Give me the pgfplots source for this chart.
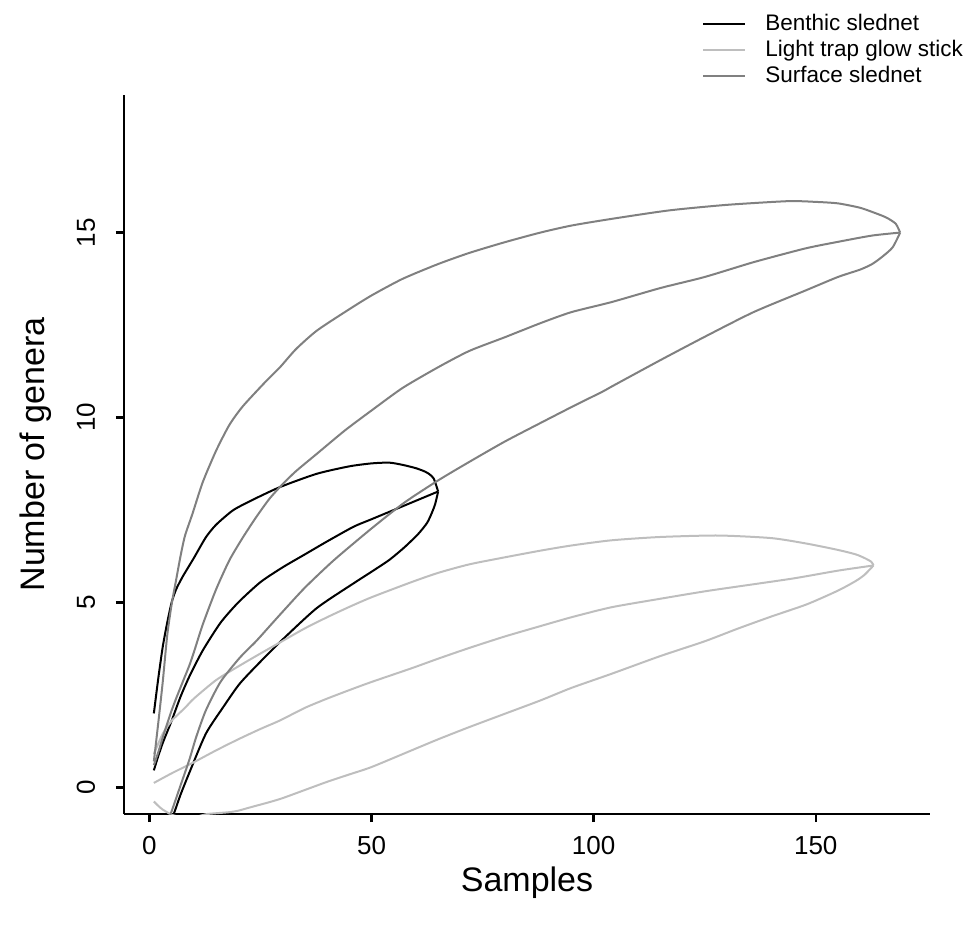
\documentclass[border=0pt]{standalone}
\usepackage{fontspec}
\setmainfont{Liberation Sans}
\usepackage{pgfplots}
\pgfplotsset{compat=1.18}
\definecolor{surfgray}{HTML}{808080}
\definecolor{litegray}{HTML}{BEBEBE}
\begin{document}
\begin{tikzpicture}
\useasboundingbox (-62pt,-57pt) rectangle (421.5pt,407pt);
\begin{axis}[
  at={(0pt,0pt)}, anchor=south west,
  scale only axis, width=403pt, height=359.5pt,
  xmin=-5.72, xmax=175.72, ymin=-0.72, ymax=18.72,
  axis x line*=bottom, axis y line*=left,
  axis line style={line width=1.2pt, -},
  xtick={0,50,100,150}, ytick={0,5,10,15},
  tick align=outside, major tick length=4pt,
  tick style={line width=1.2pt, black},
  /pgf/number format/assume math mode=true,
  tick label style={font=\fontsize{13}{15}\selectfont},
  xticklabel style={anchor=center, yshift=-12pt},
  yticklabel style={xshift=-15pt, rotate=90, anchor=center},
  every axis x label/.style={at={(axis description cs:0.5,0)}, yshift=-34.5pt, anchor=center, font=\fontsize{17}{20}\selectfont},
  every axis y label/.style={at={(axis description cs:0,0.5)}, xshift=-44pt, rotate=90, anchor=center, font=\fontsize{17}{20}\selectfont},
  xlabel={Samples}, ylabel={Number of genera},
  legend style={at={(axis description cs:0.7171,1.1145)}, anchor=north west, draw=none, fill=none,
    font=\fontsize{11.25}{13.5}\selectfont, inner sep=0pt, column sep=9.5pt, row sep=2pt,
    nodes={inner sep=0pt, text height=8.5pt, text depth=2.5pt}},
  legend cell align=left,
  legend image code/.code={\draw[#1] (0pt,0pt) -- (21pt,0pt);},
  every axis plot/.append style={line width=1pt, line join=round, smooth, tension=0.4},
]
% Benthic slednet
\addplot[black] coordinates {(1,0.46)(2,0.85)(3,1.2)(4,1.5)(5,1.8)(7,2.45)(9,3.0)(12,3.7)(16,4.45)(20,5.0)(25,5.55)(30,5.95)(35,6.3)(40,6.65)(46,7.05)(50,7.25)(55,7.5)(60,7.75)(65,8.0)};
\addlegendentry{Benthic slednet}
\addplot[black, forget plot] coordinates {(1,2.0)(2,2.95)(3,3.8)(4,4.45)(5,5.0)(6,5.35)(7.5,5.7)(10,6.2)(12.7,6.76)(15,7.1)(18.8,7.49)(23,7.76)(29.4,8.12)(37.7,8.48)(45,8.68)(50,8.76)(54,8.78)(57,8.72)(60,8.63)(62,8.54)(63,8.47)(64,8.35)(65,8.0)};
\addplot[black, forget plot] coordinates {(1,-2.1)(3,-1.45)(5.5,-0.71)(7,-0.2)(9,0.4)(12.7,1.45)(16.5,2.15)(20.3,2.8)(25,3.4)(30,4.0)(37.7,4.85)(46,5.52)(50,5.83)(54,6.15)(57.4,6.49)(60.5,6.85)(62.5,7.15)(63.5,7.4)(64.3,7.65)(65,8.0)};
% Light trap glow stick
\addplot[litegray] coordinates {(1,0.12)(5,0.38)(10,0.68)(15,1.0)(20,1.3)(25,1.58)(29.4,1.81)(35,2.15)(40,2.4)(45,2.63)(50,2.85)(59,3.22)(65,3.48)(72,3.77)(80,4.08)(88,4.36)(95,4.6)(104,4.87)(115,5.1)(125,5.3)(132.4,5.43)(145,5.65)(155,5.86)(163,6.0)};
\addlegendentry{Light trap glow stick}
\addplot[litegray, forget plot] coordinates {(1,0.9)(3,1.45)(5,1.8)(8,2.15)(10,2.4)(15,2.9)(20,3.27)(25,3.62)(30,3.96)(35,4.3)(40,4.6)(45,4.88)(50,5.14)(59,5.55)(65,5.8)(72,6.03)(80,6.22)(88,6.4)(95,6.54)(104,6.68)(115,6.77)(128,6.81)(140,6.74)(148,6.59)(155,6.42)(159,6.3)(161,6.2)(162.5,6.1)(163,6.0)};
\addplot[litegray, forget plot] coordinates {(1,-0.38)(2,-0.5)(3,-0.6)(5,-0.74)(7,-0.8)(9,-0.82)(11,-0.78)(13,-0.72)(16,-0.69)(18,-0.67)(20,-0.63)(23,-0.53)(27,-0.4)(30,-0.29)(35,-0.07)(40,0.15)(45,0.35)(50,0.55)(59,1.0)(65,1.3)(72,1.63)(80,1.99)(88,2.35)(95,2.69)(104,3.07)(115,3.55)(125,3.95)(132.4,4.29)(140,4.62)(148,4.95)(155,5.32)(159,5.58)(161,5.75)(163,6.0)};
% Surface slednet
\addplot[surfgray] coordinates {(1,0.6)(2,0.95)(3,1.35)(4,1.72)(5,2.08)(6,2.4)(7,2.7)(8,3.0)(9,3.3)(10,3.65)(12,4.4)(15,5.35)(18,6.14)(21,6.75)(24,7.3)(27,7.8)(30,8.2)(33,8.55)(37.7,9.02)(44,9.65)(50,10.19)(57,10.8)(65,11.36)(72,11.8)(80,12.17)(88,12.55)(95,12.85)(104,13.12)(115,13.5)(125,13.8)(136,14.2)(147.6,14.57)(155,14.75)(162.7,14.92)(169,15)};
\addlegendentry{Surface slednet}
\addplot[surfgray, forget plot] coordinates {(1,0.7)(2,1.75)(3,2.85)(4,4.1)(5,4.95)(6,5.6)(7,6.25)(8,6.8)(9.7,7.4)(12,8.25)(15,9.1)(18,9.8)(21,10.3)(26,10.95)(29.4,11.36)(33,11.85)(37.7,12.35)(44.5,12.89)(50,13.3)(57,13.75)(65,14.15)(72,14.45)(80,14.74)(88,15.0)(95,15.19)(104,15.37)(117,15.6)(130,15.75)(143.8,15.85)(150,15.83)(155,15.79)(160,15.67)(164,15.5)(166,15.4)(168,15.24)(169,15.0)};
\addplot[surfgray, forget plot] coordinates {(1,-1.8)(3,-1.2)(4.8,-0.71)(7,0.05)(9,0.75)(10.5,1.35)(12.7,2.08)(16,2.85)(20.3,3.5)(24,3.95)(27,4.35)(30,4.75)(35,5.4)(41.5,6.14)(50,7.0)(57.4,7.7)(65,8.3)(72,8.8)(80,9.35)(88,9.85)(95.3,10.3)(102,10.7)(104.4,10.86)(115,11.55)(124.8,12.17)(136,12.85)(147.6,13.43)(155,13.8)(160,14.0)(162.7,14.15)(165,14.35)(167.3,14.6)(169,15.0)};
\end{axis}
\end{tikzpicture}
\end{document}
